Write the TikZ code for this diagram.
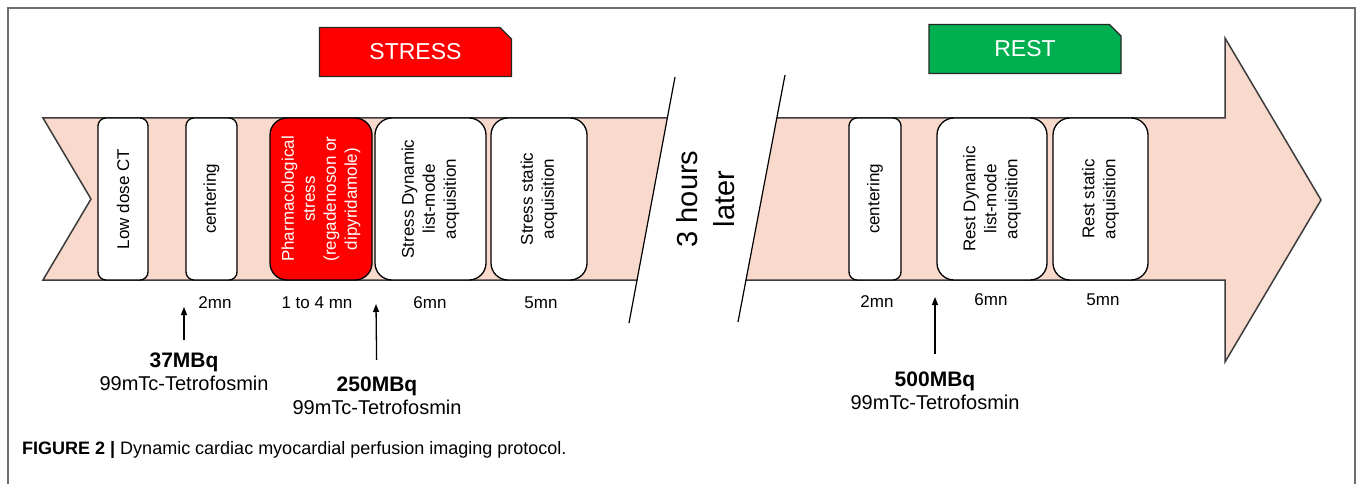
\documentclass[tikz,border=0pt]{standalone}
\usepackage{fontspec}
\setmainfont{Liberation Sans}
\usetikzlibrary{arrows.meta,shapes.misc}
\definecolor{bandfill}{RGB}{248,217,204}
\definecolor{stressred}{RGB}{255,0,0}
\definecolor{restgreen}{RGB}{0,176,80}
\definecolor{edgegray}{RGB}{60,60,60}
\definecolor{framegray}{RGB}{110,110,110}
\begin{document}
\begin{tikzpicture}[x=1pt,y=-1pt,
  stepbox/.style={draw=black,line width=1.3pt,fill=white,rotate=90,minimum width=162pt,
    align=center,inner sep=0pt,font=\fontsize{17}{21}\selectfont},
  tag/.style={chamfered rectangle,chamfered rectangle corners=north east,
    chamfered rectangle xsep=8pt,draw=black!85,line width=1.3pt,text=white,
    minimum width=192pt,minimum height=49pt,inner sep=0pt,font=\fontsize{23}{26}\selectfont},
  dur/.style={font=\fontsize{17}{20}\selectfont,inner sep=0pt},
  dose/.style={align=center,inner sep=0pt,font=\fontsize{20}{23}\selectfont},
  arr/.style={-{Triangle[length=8pt,width=6pt]},line width=1.3pt}]
\useasboundingbox (0,0) rectangle (1358,484);
% frame
\draw[framegray,line width=1.5pt] (8,484) -- (8,8) -- (1355,8) -- (1355,484);
% time band, before and after the break
\fill[bandfill] (43,118) -- (667,118) -- (637,280) -- (43,280) -- (91,199) -- cycle;
\draw[edgegray,line width=1.5pt] (667,118) -- (43,118) -- (91,199) -- (43,280) -- (637,280);
\fill[bandfill] (777,118) -- (1225,118) -- (1225,38) -- (1321,200) -- (1225,362) -- (1225,280) -- (746,280) -- cycle;
\draw[edgegray,line width=1.5pt] (777,118) -- (1225,118) -- (1225,38) -- (1321,200) -- (1225,362) -- (1225,280) -- (746,280);
\draw[line width=1.2pt] (675,77) -- (629,323);
\draw[line width=1.2pt] (785,75) -- (738,322);
\node[rotate=90,align=center,inner sep=0pt,font=\fontsize{29}{37}\selectfont] (gap) at (706,199) {3 hours\\later};
% phase tags
\node[tag,fill=stressred] (stress) at (415.5,52) {STRESS};
\node[tag,fill=restgreen] (rest) at (1025,49) {REST};
% stress steps
\node[stepbox,minimum height=50pt,rounded corners=8pt] (ct) at (123,199) {Low dose CT};
\node[stepbox,minimum height=51pt,rounded corners=8pt] (cent1) at (211.5,199) {centering};
\node[stepbox,minimum height=102pt,rounded corners=17pt,fill=stressred,text=white] (pharm) at (321,199) {Pharmacological\\stress\\(regadenoson or\\dipyridamole)};
\node[stepbox,minimum height=111pt,rounded corners=17pt] (sdyn) at (430.5,199) {Stress Dynamic\\list-mode\\acquisition};
\node[stepbox,minimum height=96pt,rounded corners=17pt] (sstat) at (539,199) {Stress static\\acquisition};
% rest steps
\node[stepbox,minimum height=52pt,rounded corners=8pt] (cent2) at (875,199) {centering};
\node[stepbox,minimum height=110pt,rounded corners=17pt] (rdyn) at (992,199) {Rest Dynamic\\list-mode\\acquisition};
\node[stepbox,minimum height=95pt,rounded corners=17pt] (rstat) at (1100.5,199) {Rest static\\acquisition};
% durations
\node[dur] (t1) at (215,303) {2mn};
\node[dur] (t2) at (317,303) {1 to 4 mn};
\node[dur] (t3) at (430,303) {6mn};
\node[dur] (t4) at (541,303) {5mn};
\node[dur] (t5) at (877,302) {2mn};
\node[dur] (t6) at (991,300) {6mn};
\node[dur] (t7) at (1103,300) {5mn};
% injections
\node[dose] (dose1) at (184,372) {{\fontsize{21}{23}\selectfont\bfseries 37MBq}\\99mTc-Tetrofosmin};
\node[dose] (dose2) at (377,396) {{\fontsize{21}{23}\selectfont\bfseries 250MBq}\\99mTc-Tetrofosmin};
\node[dose] (dose3) at (935,391) {{\fontsize{21}{23}\selectfont\bfseries 500MBq}\\99mTc-Tetrofosmin};
\coordinate (tip1) at (184,307);
\coordinate (tip2) at (376,304);
\coordinate (tip3) at (935,297);
\draw[arr,shorten <=13pt] (dose1) -- (tip1);
\draw[arr,shorten <=17pt] (dose2) -- (tip2);
\draw[arr,shorten <=18pt] (dose3) -- (tip3);
% caption
\node[anchor=west,inner sep=0pt,font=\fontsize{18}{21}\selectfont] (caption) at (22,450) {\textbf{FIGURE 2 |} Dynamic cardiac myocardial perfusion imaging protocol.};
\end{tikzpicture}
\end{document}
